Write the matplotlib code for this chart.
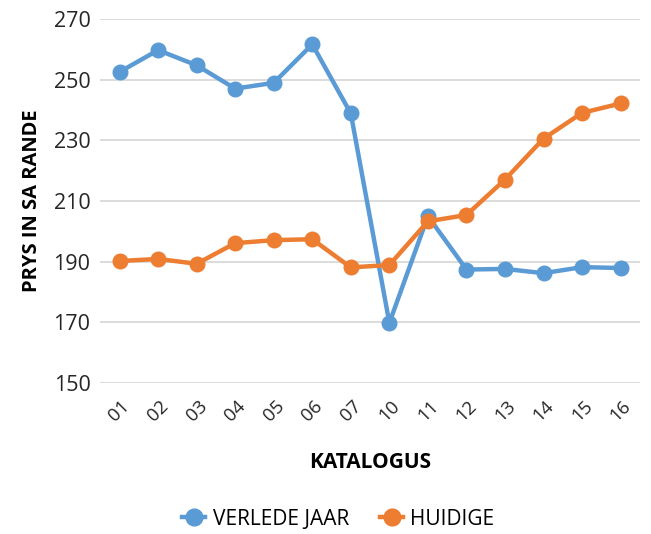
import matplotlib
matplotlib.use("Agg")
import matplotlib.pyplot as plt

plt.rcParams['font.family'] = ['Open Sans', 'DejaVu Sans']

categories = ["01", "02", "03", "04", "05", "06", "07", "10", "11", "12", "13", "14", "15", "16"]
verlede_jaar = [252.6, 259.8, 254.8, 247.1, 249.0, 261.7, 238.9, 169.8, 205.0, 187.4, 187.6, 186.2, 188.2, 187.9]
huidige = [190.2, 190.9, 189.3, 196.1, 197.1, 197.4, 188.1, 188.9, 203.3, 205.4, 217.1, 230.6, 239.1, 242.2]
yticks = [150, 170, 190, 210, 230, 250, 270]

fig = plt.figure(figsize=(6.51, 5.34), dpi=100)
ax = fig.add_axes([0.154, 0.283, 0.829, 0.681])

x = list(range(len(categories)))
ax.plot(x, verlede_jaar, color="#5B9BD5", lw=3.2, marker="o", ms=10.5, label="VERLEDE JAAR", zorder=3)
ax.plot(x, huidige, color="#ED7D31", lw=3.2, marker="o", ms=10.5, label="HUIDIGE", zorder=3)

ax.set_xlim(-0.5, len(categories) - 0.5)
ax.set_ylim(150, 270)
ax.set_yticks(yticks)
ax.set_xticks(x)
ax.set_xticklabels(categories, rotation=45, ha="center", fontsize=13.5, color="#262626")
ax.tick_params(axis="y", labelsize=15.5, length=0, pad=7, labelcolor="#262626")
ax.tick_params(axis="x", length=0, pad=10)
ax.grid(axis="y", color="#D9D9D9", lw=1.3)
ax.set_axisbelow(True)
for s in ax.spines.values():
    s.set_visible(False)

ax.set_ylabel("PRYS IN SA RANDE", fontsize=14.5, fontweight="bold", labelpad=8)
ax.set_xlabel("KATALOGUS", fontsize=15, fontweight="bold", labelpad=20)

fig.legend(loc="center", bbox_to_anchor=(0.52, 0.028), ncol=2, frameon=False,
           fontsize=15, handlelength=1.1, columnspacing=1.5, handletextpad=0.35,
           markerscale=1.15)

fig.savefig("out.png", dpi=100)
